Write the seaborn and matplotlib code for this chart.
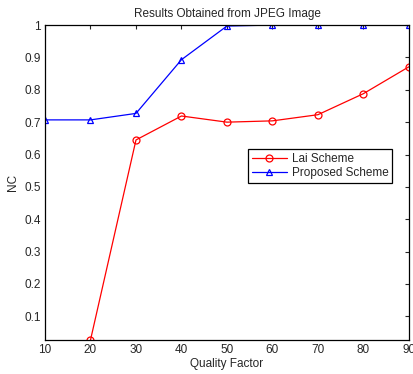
import seaborn as sns
import matplotlib.pyplot as plt
import pandas as pd

quality = [10, 20, 30, 40, 50, 60, 70, 80, 90]
lai = [None, 0.027, 0.645, 0.719, 0.700, 0.704, 0.723, 0.788, 0.871]
proposed = [0.707, 0.707, 0.727, 0.893, 0.997, 1.0, 1.0, 1.0, 1.0]

sns.set_style('white')
plt.rcParams['font.family'] = ['Liberation Sans', 'DejaVu Sans']
plt.rcParams['font.size'] = 8

df = pd.DataFrame({'Quality Factor': quality, 'Lai Scheme': lai, 'Proposed Scheme': proposed})

fig = plt.figure(figsize=(4.13, 3.74), dpi=100)
ax = fig.add_axes([0.109, 0.091, 0.881, 0.842])

sns.lineplot(data=df, x='Quality Factor', y='Lai Scheme', ax=ax, color='red', lw=0.9,
             marker='o', markersize=5, markerfacecolor='none', markeredgecolor='red',
             markeredgewidth=0.9, label='Lai Scheme')
sns.lineplot(data=df, x='Quality Factor', y='Proposed Scheme', ax=ax, color='blue', lw=0.9,
             marker='^', markersize=5, markerfacecolor='none', markeredgecolor='blue',
             markeredgewidth=0.9, label='Proposed Scheme')

ax.set_xlim(10, 90)
ax.set_ylim(0.027, 1)
ax.set_xticks(quality)
ax.set_yticks([0.1, 0.2, 0.3, 0.4, 0.5, 0.6, 0.7, 0.8, 0.9, 1])
ax.set_yticklabels(['0.1', '0.2', '0.3', '0.4', '0.5', '0.6', '0.7', '0.8', '0.9', '1'])
ax.set_xlabel('Quality Factor', fontsize=8.5, labelpad=1)
ax.set_ylabel('NC', fontsize=8.5, labelpad=4)
ax.set_title('Results Obtained from JPEG Image', fontsize=8.5, pad=6)
ax.tick_params(direction='in', length=3, width=0.8, top=True, right=True, labelsize=8.5, pad=3)
for s in ax.spines.values():
    s.set_color('black')
    s.set_linewidth(0.9)

leg = ax.legend(loc='upper left', bbox_to_anchor=(0.558, 0.605), fontsize=8.5, frameon=True,
                fancybox=False, edgecolor='black', framealpha=1, borderpad=0.3,
                handlelength=3, labelspacing=0.2, handletextpad=0.4, borderaxespad=0)
leg.get_frame().set_linewidth(0.9)

fig.savefig('out.png', dpi=100)
